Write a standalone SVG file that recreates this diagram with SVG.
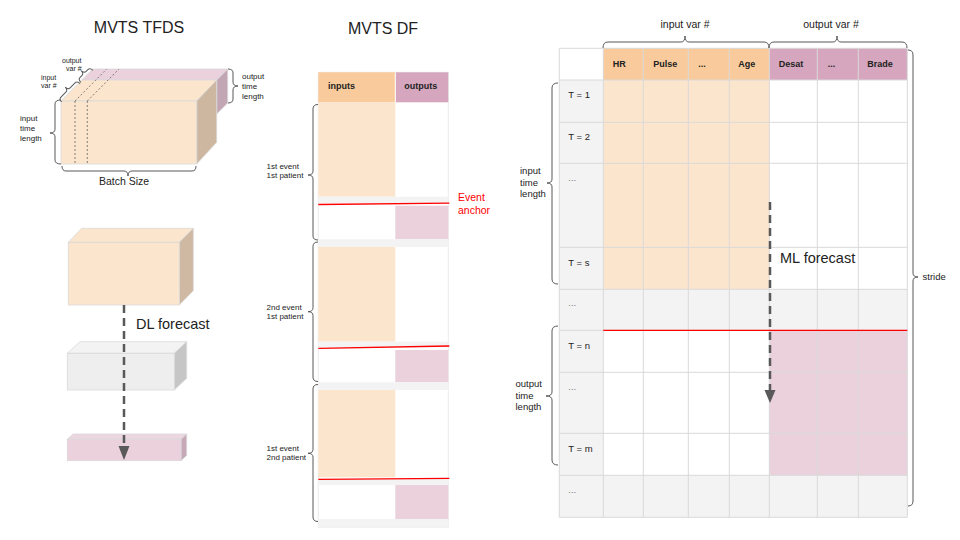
<svg xmlns="http://www.w3.org/2000/svg" width="960" height="540" viewBox="0 0 960 540">
<defs>
<style>
text{font-family:"Liberation Sans",Arial,sans-serif;fill:#222}
.title{font-size:16px}
.sm{font-size:8px}
.xs{font-size:7px}
.lbl{font-size:9.5px}
.hdr{font-size:9px;font-weight:bold}
.big{font-size:14.5px}
.mid{font-size:10.5px}
.dots{fill:#777}
.brace{fill:none;stroke:#595959;stroke-width:1}
.grid{stroke:#d9d9d9;stroke-width:1;fill:none}
.edge{stroke:#d9d9d9;stroke-width:0.8}
.dash{stroke:#595959;stroke-width:2.5;stroke-dasharray:8 5;fill:none}
.red{stroke:#ff0000;stroke-width:1.3}
.or{fill:#fce5cd}
.orh{fill:#f9cb9c}
.pk{fill:#ead1dc}
.pkh{fill:#d5a6bd}
.gr{fill:#f3f3f3}
.dot{stroke:#666;stroke-width:0.8;stroke-dasharray:2 2}
</style>
</defs>
<rect width="960" height="540" fill="#ffffff"/>

<text class="title" x="139" y="33" text-anchor="middle">MVTS TFDS</text>
<text class="title" x="383" y="34" text-anchor="middle">MVTS DF</text>

<!-- TFDS cube -->
<g id="tfds-cube">
<polygon points="81.7,80 216.7,80 227.7,69 92.7,69" fill="#ead1dc" class="edge"/>
<polygon points="216.7,80 227.7,69 227.7,103 216.7,114" fill="#c2a6b4" class="edge"/>
<polygon points="61,101 196.7,101 216.7,80 81.7,80" fill="#fce5cd" class="edge"/>
<polygon points="196.7,101 216.7,80 216.7,142.3 196.7,164" fill="#cdb7a0" class="edge"/>
<rect x="61" y="101" width="135.7" height="63" fill="#fce5cd" class="edge"/>
<line x1="75" y1="101" x2="75" y2="164" class="dot"/>
<line x1="87.3" y1="101" x2="87.3" y2="164" class="dot"/>
<line x1="75" y1="101" x2="106.7" y2="69" class="dot"/>
<line x1="87.3" y1="101" x2="119" y2="69" class="dot"/>
<path class="brace" d="M61,100 Q55,100 55,104 L55,129 Q55,133 50,133 Q55,133 55,137 L55,160 Q55,164 61,164"/>
<path class="brace" d="M228,69 Q233,69 233,73 L233,82 Q233,86 238,86 Q233,86 233,90 L233,99 Q233,103 228,103"/>
<path class="brace" d="M62,166 Q62,171 66,171 L124,171 Q128,171 128,176 Q128,171 132,171 L192,171 Q196,171 196,166"/>
<path class="brace" transform="translate(68,90) rotate(-45)" d="M-13,4 Q-13,0 -10,0 L-3,0 Q0,0 0,-4 Q0,0 3,0 L10,0 Q13,0 13,4"/>
<path class="brace" transform="translate(84,73.5) rotate(-45)" d="M-8.5,4 Q-8.5,0 -5.5,0 L-3,0 Q0,0 0,-4 Q0,0 3,0 L5.5,0 Q8.5,0 8.5,4"/>
<text class="xs" x="62" y="63">output</text>
<text class="xs" x="66" y="70.5">var #</text>
<text class="xs" x="41" y="80">input</text>
<text class="xs" x="41" y="88">var #</text>
<text class="sm" x="20" y="121">input</text>
<text class="sm" x="20" y="131">time</text>
<text class="sm" x="20" y="141">length</text>
<text class="sm" x="242" y="79">output</text>
<text class="sm" x="242" y="89">time</text>
<text class="sm" x="242" y="98.5">length</text>
<text class="mid" x="124" y="185" text-anchor="middle">Batch Size</text>
</g>

<!-- DL boxes -->
<g id="dl-input-box">
<polygon points="68.3,242.3 179.3,242.3 193.3,228.3 81.7,228.3" fill="#fce5cd" class="edge"/>
<polygon points="179.3,242.3 193.3,228.3 193.3,290.7 179.3,305" fill="#cfb9a2" class="edge"/>
<rect x="68.3" y="242.3" width="111" height="62.7" fill="#fce5cd" class="edge"/>
</g>
<g id="dl-hidden-box">
<polygon points="67.3,353.3 174.3,353.3 186.7,341.7 80,341.7" fill="#f3f3f3" class="edge"/>
<polygon points="174.3,353.3 186.7,341.7 186.7,378.3 174.3,390" fill="#c6c6c6" class="edge"/>
<rect x="67.3" y="353.3" width="107" height="36.7" fill="#eeeeee" class="edge"/>
</g>
<g id="dl-output-box">
<polygon points="67.3,439.3 181,439.3 186.7,434 73,434" fill="#ecd6df" class="edge"/>
<polygon points="181,439.3 186.7,434 186.7,455.5 181,460.7" fill="#c6a8b6" class="edge"/>
<rect x="67.3" y="439.3" width="113.7" height="21.4" fill="#ead1dc" class="edge"/>
</g>

<!-- DF table -->
<g id="df-table">
<rect x="318.3" y="72.3" width="130" height="455" fill="#ffffff" stroke="#ececec" stroke-width="1"/>
<rect x="318.3" y="72.3" width="77" height="30" class="orh"/>
<rect x="395.3" y="72.3" width="53" height="30" class="pkh"/>
<line x1="395.3" y1="72.3" x2="395.3" y2="102.3" stroke="#ffffff" stroke-width="1"/>
<text class="hdr" x="328" y="89">inputs</text>
<text class="hdr" x="404.3" y="89">outputs</text>
<rect x="318.3" y="102.3" width="77" height="94.4" class="or"/>
<rect x="318.3" y="196.7" width="130" height="6.3" class="gr"/>
<rect x="395.3" y="205.7" width="53" height="33.6" class="pk"/>
<rect x="318.3" y="239.3" width="130" height="7.7" class="gr"/>
<rect x="318.3" y="247" width="77" height="94.7" class="or"/>
<rect x="318.3" y="341.7" width="130" height="5.5" class="gr"/>
<rect x="395.3" y="350" width="53" height="32.3" class="pk"/>
<rect x="318.3" y="382.3" width="130" height="7.7" class="gr"/>
<rect x="318.3" y="390" width="77" height="87.3" class="or"/>
<rect x="318.3" y="479" width="130" height="6" class="gr"/>
<rect x="395.3" y="485" width="53" height="34" class="pk"/>
<rect x="318.3" y="519" width="130" height="8.3" class="gr"/>
<line x1="318.3" y1="204.5" x2="449.3" y2="203.2" class="red"/>
<line x1="318.3" y1="348.3" x2="449.3" y2="346" class="red"/>
<line x1="318.3" y1="479.3" x2="449.3" y2="478.3" class="red"/>
</g>
<g id="df-labels">
<path class="brace" d="M318,104.5 Q313,104.5 313,109 L313,171 Q313,175 308,175 Q313,175 313,179 L313,236 Q313,240 318,240"/>
<path class="brace" d="M318,242 Q313,242 313,246.5 L313,307.7 Q313,311.7 308,311.7 Q313,311.7 313,315.7 L313,377 Q313,381.5 318,381.5"/>
<path class="brace" d="M318,384.5 Q313,384.5 313,389 L313,449.3 Q313,453.3 308,453.3 Q313,453.3 313,457.3 L313,517 Q313,521.5 318,521.5"/>
<text class="sm" x="266.5" y="168.5">1st event</text>
<text class="sm" x="266.5" y="178">1st patient</text>
<text class="sm" x="266.5" y="309.5">2nd event</text>
<text class="sm" x="266.5" y="319">1st patient</text>
<text class="sm" x="266.5" y="450.5">1st event</text>
<text class="sm" x="266.5" y="460">2nd patient</text>
<text class="mid" x="458" y="201" style="fill:#ff0000">Event</text>
<text class="mid" x="458" y="214" style="fill:#ff0000">anchor</text>
</g>

<!-- ML table -->
<g id="ml-table">
<rect x="559.3" y="48.3" width="348" height="469" fill="#ffffff"/>
<rect x="603.3" y="48.3" width="166" height="31.7" class="orh"/>
<rect x="769.3" y="48.3" width="138" height="31.7" class="pkh"/>
<rect x="559.3" y="80" width="44" height="437.3" class="gr"/>
<rect x="603.3" y="80" width="166" height="209.3" class="or"/>
<rect x="603.3" y="289.3" width="304" height="41" class="gr"/>
<rect x="769.3" y="330.3" width="138" height="145" class="pk"/>
<rect x="603.3" y="475.3" width="304" height="42" class="gr"/>
<g class="grid">
<path d="M559.3,48.3V517.3M603.3,48.3V517.3M643.3,48.3V517.3M688.3,48.3V517.3M729.3,48.3V517.3M769.3,48.3V517.3M817.3,48.3V517.3M858.3,48.3V517.3M907.3,48.3V517.3"/>
<path d="M559.3,48.3H907.3M559.3,80H907.3M559.3,122.3H907.3M559.3,163.3H907.3M559.3,247.3H907.3M559.3,289.3H907.3M559.3,330.3H907.3M559.3,372.3H907.3M559.3,433.3H907.3M559.3,475.3H907.3M559.3,517.3H907.3"/>
</g>
<line x1="603.3" y1="330.3" x2="907.3" y2="330.3" class="red"/>
<text class="hdr" x="612.7" y="66.5">HR</text>
<text class="hdr" x="653.3" y="66.5">Pulse</text>
<text class="hdr" x="698.3" y="66.5">...</text>
<text class="hdr" x="738.3" y="66.5">Age</text>
<text class="hdr" x="778.7" y="66.5">Desat</text>
<text class="hdr" x="827.7" y="66.5">...</text>
<text class="hdr" x="867.3" y="66.5">Brade</text>
<text class="lbl" x="568.3" y="98">T = 1</text>
<text class="lbl" x="568.3" y="140.3">T = 2</text>
<text class="lbl dots" x="568.3" y="181">...</text>
<text class="lbl" x="568.3" y="265.5">T = s</text>
<text class="lbl dots" x="568.3" y="306">...</text>
<text class="lbl" x="568.3" y="348.5">T = n</text>
<text class="lbl dots" x="568.3" y="390">...</text>
<text class="lbl" x="568.3" y="451.5">T = m</text>
<text class="lbl dots" x="568.3" y="493">...</text>
</g>
<g id="ml-labels">
<path class="brace" d="M603,48 Q603,42 608,42 L681,42 Q685,42 685,36 Q685,42 689,42 L764,42 Q769,42 769,48"/>
<path class="brace" d="M769,48 Q769,42 774,42 L833,42 Q837,42 837,36 Q837,42 841,42 L902,42 Q907,42 907,48"/>
<path class="brace" d="M558,83 Q552,83 552,88 L552,179 Q552,183 547,183 Q552,183 552,187 L552,279 Q552,284 558,284"/>
<path class="brace" d="M558,326 Q552,326 552,331 L552,392 Q552,396 546,396 Q552,396 552,400 L552,460 Q552,465 558,465"/>
<path class="brace" d="M908,50 Q913,50 913,55 L913,273 Q913,277 918,277 Q913,277 913,281 L913,501 Q913,506 908,506"/>
<text class="mid" x="685" y="28" text-anchor="middle">input var #</text>
<text class="mid" x="831" y="28" text-anchor="middle">output var #</text>
<text class="lbl" x="520" y="174">input</text>
<text class="lbl" x="520" y="185.5">time</text>
<text class="lbl" x="520" y="196.5">length</text>
<text class="lbl" x="515.5" y="387">output</text>
<text class="lbl" x="515.5" y="398.5">time</text>
<text class="lbl" x="515.5" y="410">length</text>
<text class="lbl" x="922.5" y="280">stride</text>
</g>

<!-- connectors -->
<g id="connectors">
<line x1="124" y1="305" x2="124" y2="447" class="dash"/>
<polygon points="118.5,446 129.5,446 124,460" fill="#595959"/>
<line x1="770" y1="202" x2="770" y2="391" class="dash"/>
<polygon points="764.5,390 775.5,390 770,403" fill="#595959"/>
<text class="big" x="136" y="328.5">DL forecast</text>
<text class="big" x="780" y="263">ML forecast</text>
</g>
</svg>
